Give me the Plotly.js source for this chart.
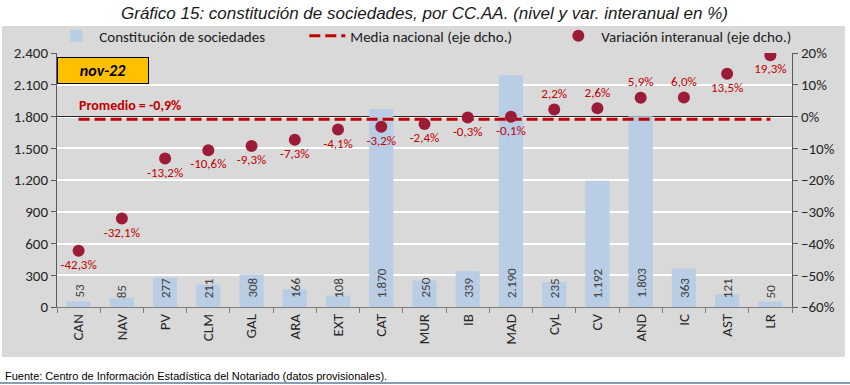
<!DOCTYPE html>
<html>
<head>
<meta charset="utf-8">
<script src="https://cdn.plot.ly/plotly-3.0.1.min.js"></script>
<style>
html,body{margin:0;padding:0;background:#fff;}
#chart{width:850px;height:385px;}
</style>
</head>
<body>
<div id="chart"></div>
<script>
const categories = ["CAN","NAV","PV","CLM","GAL","ARA","EXT","CAT","MUR","IB","MAD","CyL","CV","AND","IC","AST","LR"];
const sociedades = [53,85,277,211,308,166,108,1870,250,339,2190,235,1192,1803,363,121,50];
const variacion = [-42.3,-32.1,-13.2,-10.6,-9.3,-7.3,-4.1,-3.2,-2.4,-0.3,-0.1,2.2,2.6,5.9,6.0,13.5,19.3];
const mediaNacional = -0.9;
const periodo = "nov-22";

const FONT = "Carlito, Lato, 'Open Sans', sans-serif";
const NARROW = "'Liberation Sans Narrow', 'Arial Narrow', 'Liberation Sans', Arial, sans-serif";
const fmtThousands = v => String(v).replace(/\B(?=(\d{3})+(?!\d))/g, ".");

const textPos = variacion.map(v => (v < 0 || v > 10) ? "bottom center" : "top center");

const traces = [
  {
    type: "bar", name: "Constitución de sociedades",
    x: categories, y: sociedades,
    marker: {color: "#B9CDE5"},
    hoverinfo: "x+y"
  },
  {
    type: "scatter", mode: "lines", name: "Media nacional (eje dcho.)",
    x: categories, y: categories.map(() => mediaNacional), yaxis: "y2",
    line: {color: "#C00000", width: 3, dash: "11px,5px"}
  },
  {
    type: "scatter", mode: "markers+text", name: "Variación interanual (eje dcho.)",
    x: categories, y: variacion, yaxis: "y2",
    marker: {color: "#9C1B36", size: 12},
    texttemplate: "%{y:.1f}%",
    textposition: textPos,
    textfont: {family: FONT, size: 13, color: "#C00000"}
  }
];

const annotations = categories.map((c, i) => ({
  x: c, y: 0, xref: "x", yref: "y",
  text: fmtThousands(sociedades[i]), textangle: -90,
  showarrow: false, xanchor: "center", yanchor: "bottom", yshift: 7,
  font: {family: FONT, size: 13, color: "#404040"}
}));

annotations.push({
  xref: "paper", yref: "paper", x: 0.0, y: 0.984, xanchor: "left", yanchor: "top",
  text: "<b><i>" + periodo + "</i></b>", showarrow: false,
  bgcolor: "#FFC000", bordercolor: "#000", borderwidth: 1, width: 88, height: 23,
  font: {family: FONT, size: 16, color: "#000"}
});
annotations.push({
  xref: "paper", yref: "y2", x: 0.027, y: mediaNacional, xanchor: "left", yanchor: "bottom", yshift: 3,
  text: "<b>Promedio = " + String(mediaNacional).replace(".", ",") + "%</b>", showarrow: false,
  font: {family: FONT, size: 14, color: "#C00000"}
});
annotations.push({
  xref: "paper", yref: "paper", x: 0.5, y: 1.157, xanchor: "center", yanchor: "middle",
  text: "<i>Gráfico 15: constitución de sociedades, por CC.AA. (nivel y var. interanual en %)</i>",
  showarrow: false, font: {family: NARROW, size: 17, color: "#1a1a1a"}
});
annotations.push({
  xref: "paper", yref: "paper", x: -0.074, y: -0.271, xanchor: "left", yanchor: "middle",
  text: "Fuente: Centro de Información Estadística del Notariado (datos provisionales).",
  showarrow: false, font: {family: NARROW, size: 11, color: "#000"}
});

const layout = {
  width: 850, height: 385,
  margin: {l: 57, r: 58, t: 53, b: 78},
  paper_bgcolor: "#ffffff",
  plot_bgcolor: "rgba(0,0,0,0)",
  separators: ",.",
  bargap: 0.44,
  showlegend: true,
  legend: {
    orientation: "h", x: -0.005, y: 1.067, xanchor: "left", yanchor: "middle",
    font: {family: FONT, size: 15, color: "#1a1a1a"},
    bgcolor: "rgba(0,0,0,0)", entrywidth: 200, itemwidth: 36,
    traceorder: "normal"
  },
  xaxis: {
    type: "category", range: [-0.5, categories.length - 0.5], tickangle: -90, showgrid: false,
    showline: true, linecolor: "#7f7f7f", linewidth: 1,
    ticks: "outside", ticklen: 5, tickcolor: "#7f7f7f", tickson: "boundaries",
    tickfont: {family: FONT, size: 15, color: "#262626"},
    fixedrange: true
  },
  yaxis: {
    range: [0, 2400], dtick: 300, tickformat: ",d",
    showgrid: true, gridcolor: "#ffffff", gridwidth: 2, zeroline: false,
    showline: true, linecolor: "#595959", linewidth: 1,
    ticks: "outside", ticklen: 5, tickcolor: "#595959",
    tickfont: {family: FONT, size: 15, color: "#262626"}
  },
  yaxis2: {
    overlaying: "y", side: "right",
    range: [-60, 20], dtick: 10, ticksuffix: "%",
    showgrid: false, zeroline: true, zerolinecolor: "#262626", zerolinewidth: 1.3,
    showline: true, linecolor: "#595959", linewidth: 1,
    ticks: "outside", ticklen: 5, tickcolor: "#595959",
    tickfont: {family: FONT, size: 15, color: "#262626"}
  },
  shapes: [
    {type: "rect", xref: "paper", yref: "paper", x0: -0.0748, x1: 1.072, y0: -0.197, y1: 1.106,
     fillcolor: "#D9D9D9", line: {width: 0}, layer: "below"},
    {type: "line", xref: "paper", yref: "paper", x0: -0.08, x1: 1.08, y0: -0.299, y1: -0.299,
     line: {color: "#5E7E9B", width: 1.5}, layer: "below"}
  ],
  annotations: annotations
};

Plotly.newPlot("chart", traces, layout, {displayModeBar: false, staticPlot: true});
</script>
</body>
</html>
